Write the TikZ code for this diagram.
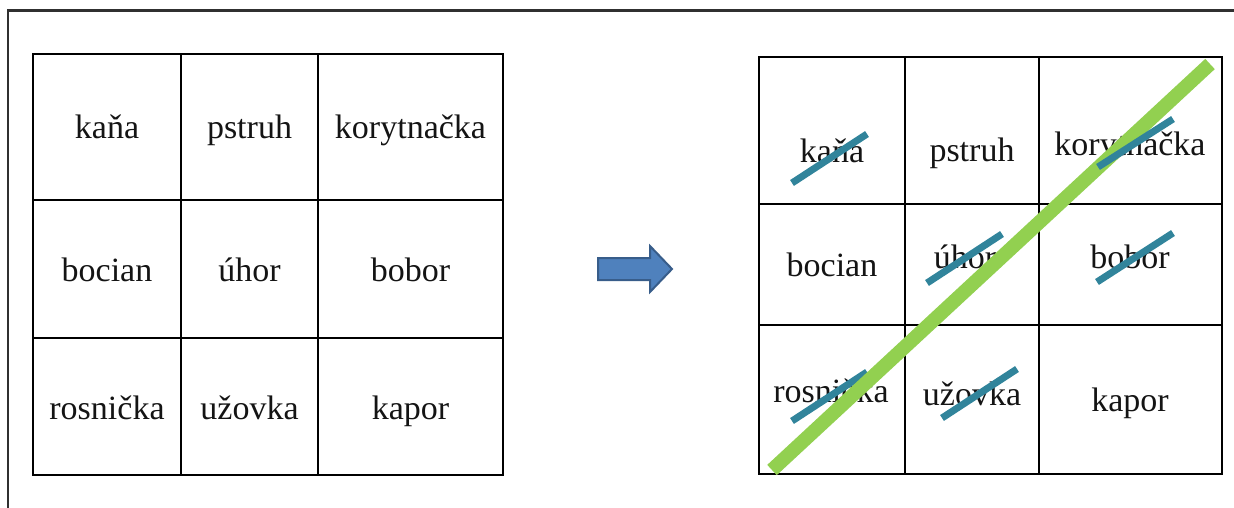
\documentclass[tikz,border=0pt]{standalone}
\usepackage{fontspec}
\setmainfont{Liberation Serif}
\definecolor{strike}{HTML}{31849B}
\definecolor{diag}{HTML}{92D050}
\definecolor{arrfill}{HTML}{4F81BD}
\definecolor{arrline}{HTML}{385D8A}
\definecolor{frame}{HTML}{303030}
\tikzset{
  grid/.style={line width=2.5pt, black},
  word/.style={anchor=base, inner sep=0pt, font=\fontsize{34}{40}\selectfont, text=black!92},
  strikeline/.style={line width=7pt, strike},
  diagline/.style={line width=14pt, diag},
}
\begin{document}
\begin{tikzpicture}[x=1pt,y=-1pt]
\useasboundingbox (0,0) rectangle (1234,508);
% outer frame
\draw[frame, line width=2.2pt] (8,508) -- (8,10.5) -- (1234,10.5);
% left table
\draw[grid] (33,54) rectangle (503,475);
\draw[grid] (181,54) -- (181,475) (318,54) -- (318,475)
  (33,200) -- (503,200) (33,338) -- (503,338);
\node[word] (l11) at (107,139) {kaňa};
\node[word] (l12) at (249.5,139) {pstruh};
\node[word] (l13) at (410.5,139) {korytnačka};
\node[word] (l21) at (107,281) {bocian};
\node[word] (l22) at (249.5,281) {úhor};
\node[word] (l23) at (410.5,281) {bobor};
\node[word] (l31) at (107,419) {rosnička};
\node[word] (l32) at (249.5,419) {užovka};
\node[word] (l33) at (410.5,419) {kapor};
% arrow
\draw[arrline, fill=arrfill, line width=2pt, line join=miter]
  (598,258) -- (650,258) -- (650,246) -- (672,269) -- (650,292) -- (650,280) -- (598,280) -- cycle;
% right table
\draw[grid] (759,57) rectangle (1222,474);
\draw[grid] (905,57) -- (905,474) (1039,57) -- (1039,474)
  (759,204) -- (1222,204) (759,325) -- (1222,325);
\node[word] (r11) at (832,162) {kaňa};
\node[word] (r12) at (972,161) {pstruh};
\node[word] (r13) at (1130,155) {korytnačka};
\node[word] (r21) at (832,276) {bocian};
\node[word] (r22) at (965,268) {úhor};
\node[word] (r23) at (1130,268) {bobor};
\node[word] (r31) at (831,402) {rosnička};
\node[word] (r32) at (972,405) {užovka};
\node[word] (r33) at (1130,411) {kapor};
% strike-throughs
\draw[strikeline] (792,183) -- (867,134);
\draw[strikeline] (927,283) -- (1002,234);
\draw[strikeline] (1097,282) -- (1173,233);
\draw[strikeline] (792,421) -- (867,372);
\draw[strikeline] (942,418) -- (1017,369);
% diagonal
\draw[diagline] (772,470) -- (1210,64);
\draw[strikeline] (1098,167) -- (1173,119);
\end{tikzpicture}
\end{document}
